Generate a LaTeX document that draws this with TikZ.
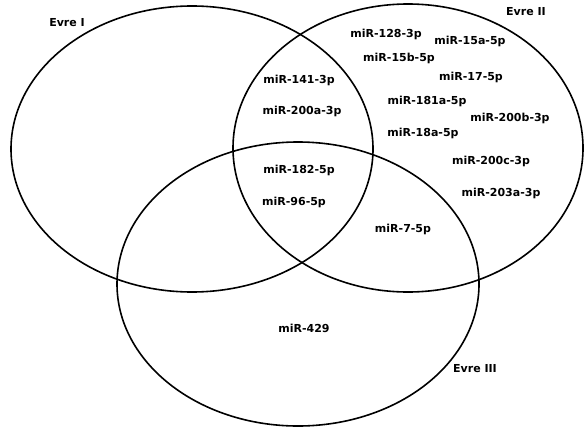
\documentclass[tikz,border=0pt]{standalone}
\usepackage{fontspec}
\setmainfont{DejaVu Sans}
\usetikzlibrary{positioning}

\begin{document}
\begin{tikzpicture}[x=1pt, y=-1pt,
      setline/.style={line width=1.6pt, black},
      mir/.style={font=\fontsize{11}{12}\selectfont\bfseries, inner sep=0pt},
      setname/.style={mir}]
    \useasboundingbox (0,0) rectangle (585,428);
    % the three sets
    \draw[setline] (192,149) ellipse [x radius=181, y radius=143];
    \draw[setline] (408,148) ellipse [x radius=175, y radius=144];
    \draw[setline] (298,284) ellipse [x radius=181, y radius=142];
    % set names
    \node[setname] (evre1) at (67,23)  {Evre I};
    \node[setname] (evre2) at (526,12) {Evre II};
    \node[setname] (evre3) at (475,369) {Evre III};
    % I and II (and III)
    \node[mir] (m141)  at (299,80)  {miR-141-3p};
    \node[mir] (m200a) at (302,111) {miR-200a-3p};
    \node[mir] (m182)  at (299,170) {miR-182-5p};
    \node[mir] (m96)   at (294,202) {miR-96-5p};
    % II only
    \node[mir] (m128)  at (386,34)  {miR-128-3p};
    \node[mir] (m15a)  at (470,41)  {miR-15a-5p};
    \node[mir] (m15b)  at (399,58)  {miR-15b-5p};
    \node[mir] (m17)   at (471,77)  {miR-17-5p};
    \node[mir] (m181a) at (427,101) {miR-181a-5p};
    \node[mir] (m200b) at (510,118) {miR-200b-3p};
    \node[mir] (m18a)  at (423,133) {miR-18a-5p};
    \node[mir] (m200c) at (491,161) {miR-200c-3p};
    \node[mir] (m203a) at (501,193) {miR-203a-3p};
    % II and III, III only
    \node[mir] (m7)    at (403,229) {miR-7-5p};
    \node[mir] (m429)  at (304,328) {miR-429};
  \end{tikzpicture}
\end{document}
